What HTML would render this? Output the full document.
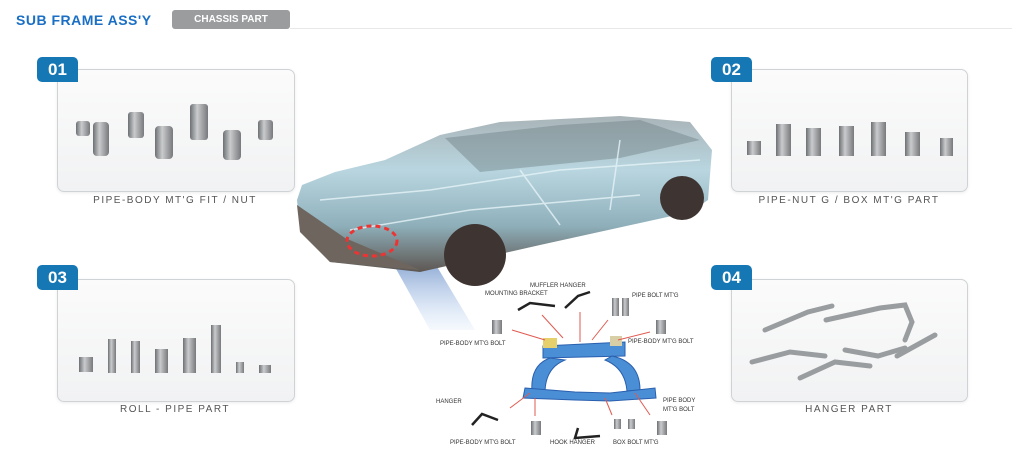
<!DOCTYPE html>
<html><head><meta charset="utf-8"><style>
body{margin:0;width:1012px;height:452px;background:#fff;position:relative;overflow:hidden;font-family:"Liberation Sans",sans-serif}
.box{position:absolute;border:1px solid #cfd3d6;border-radius:7px;background:linear-gradient(#fbfbfb,#f1f2f3);box-shadow:0 1px 3px rgba(0,0,0,.08)}
.badge{position:absolute;width:41px;height:25px;background:#1577b3;color:#fff;font-weight:bold;font-size:17px;line-height:25px;text-align:center;border-radius:5px 5px 0 5px}
.cap{position:absolute;font-size:10px;color:#555;letter-spacing:1.5px;text-align:center;width:236px}
.sl{position:absolute;font-size:6px;color:#333;white-space:nowrap}
</style></head><body>
<div style="position:absolute;left:16px;top:12px;color:#1a6fc4;font-weight:bold;font-size:14px;letter-spacing:.5px">SUB FRAME ASS'Y</div>
<div style="position:absolute;left:172px;top:10px;width:118px;height:19px;background:#9a9c9e;border-radius:3px;color:#fff;font-size:10px;font-weight:bold;line-height:19px;text-align:center">CHASSIS PART</div>
<div style="position:absolute;left:290px;top:28px;width:722px;height:1px;background:#e8e8e8"></div>

<div class="box" style="left:57px;top:69px;width:236px;height:121px"></div>
<div class="badge" style="left:37px;top:57px">01</div>
<div class="cap" style="left:57px;top:195px">PIPE-BODY MT'G FIT / NUT</div>
<div class="box" style="left:731px;top:69px;width:235px;height:121px"></div>
<div class="badge" style="left:711px;top:57px">02</div>
<div class="cap" style="left:731px;top:195px">PIPE-NUT G / BOX MT'G PART</div>
<div class="box" style="left:57px;top:279px;width:236px;height:121px"></div>
<div class="badge" style="left:37px;top:265px">03</div>
<div class="cap" style="left:57px;top:404px">ROLL - PIPE PART</div>
<div class="box" style="left:731px;top:279px;width:235px;height:121px"></div>
<div class="badge" style="left:711px;top:265px">04</div>
<div class="cap" style="left:731px;top:404px">HANGER PART</div>

<svg width="1012" height="452" style="position:absolute;left:0;top:0">
<defs>
<linearGradient id="m" x1="0" x2="1"><stop offset="0" stop-color="#6d7073"/><stop offset=".4" stop-color="#c9cbcd"/><stop offset="1" stop-color="#77797c"/></linearGradient>
<linearGradient id="car" x1="0" y1="0" x2="0" y2="1"><stop offset="0" stop-color="#a9b4b8"/><stop offset=".35" stop-color="#b9d6e0"/><stop offset=".7" stop-color="#8fb0bb"/><stop offset="1" stop-color="#5d5651"/></linearGradient>
<linearGradient id="beam" x1="0" y1="0" x2="0" y2="1"><stop offset="0" stop-color="#2f5ea8" stop-opacity=".8"/><stop offset="1" stop-color="#9fc2ee" stop-opacity=".1"/></linearGradient>
</defs>
<g fill="url(#m)">
<rect x="76" y="121" width="14" height="15" rx="3"/><rect x="93" y="122" width="16" height="34" rx="4"/>
<rect x="128" y="112" width="16" height="26" rx="3"/><rect x="155" y="126" width="18" height="33" rx="4"/>
<rect x="190" y="104" width="18" height="36" rx="3"/><rect x="223" y="130" width="18" height="30" rx="4"/>
<rect x="258" y="120" width="15" height="20" rx="3"/>
</g>
<g fill="url(#m)">
<rect x="747" y="141" width="14" height="14"/><rect x="776" y="124" width="15" height="32"/>
<rect x="806" y="128" width="15" height="28"/><rect x="839" y="126" width="15" height="30"/>
<rect x="871" y="122" width="15" height="34"/><rect x="905" y="132" width="15" height="24"/>
<rect x="940" y="138" width="13" height="18"/>
</g>
<g fill="url(#m)">
<rect x="79" y="357" width="14" height="15"/><rect x="108" y="339" width="8" height="34"/>
<rect x="131" y="341" width="9" height="32"/><rect x="155" y="349" width="13" height="24"/>
<rect x="183" y="338" width="13" height="35"/><rect x="211" y="325" width="10" height="48"/>
<rect x="236" y="362" width="8" height="11"/><rect x="259" y="365" width="12" height="8"/>
</g>
<g stroke="#9a9da0" stroke-width="5" fill="none" stroke-linecap="round">
<path d="M765 330 L808 312 L832 306"/><path d="M826 320 L880 308 L905 305 L912 322 L905 340"/>
<path d="M752 362 L790 352 L825 356"/><path d="M800 378 L835 362 L870 366"/>
<path d="M845 350 L878 356 L905 348"/><path d="M897 356 L935 335"/>
</g>
<polygon points="380,240 430,255 475,330 430,330" fill="url(#beam)"/>
<path d="M297 200 L302 185 L335 172 L385 160 L440 135 L500 122 L620 116 L690 122 L712 150 L708 200 L690 212 L540 245 L420 272 L330 262 L300 230 Z" fill="url(#car)"/>
<path d="M445 138 L560 125 L640 120 L700 140 L620 158 L480 172 Z" fill="#6f8086" opacity=".45"/>
<g stroke="#e6f4f8" stroke-width="1.5" fill="none" opacity=".8">
<path d="M320 200 L430 190 L560 170 L700 160"/><path d="M350 230 L470 210 L640 195"/><path d="M520 170 L560 225"/><path d="M620 140 L610 210"/>
</g>
<path d="M297 205 L345 238 L420 270 L330 262 L300 232 Z" fill="#6e655e"/>
<circle cx="475" cy="255" r="31" fill="#3e3431"/><circle cx="682" cy="198" r="22" fill="#3e3431"/>
<ellipse cx="372" cy="241" rx="25" ry="15" fill="none" stroke="#e33" stroke-width="3" stroke-dasharray="5,4"/>
<g fill="#4a8fd6" stroke="#2a5fae" stroke-width="1">
<path d="M543 346 L625 342 L625 356 L543 358 Z"/>
<path d="M550 358 Q530 365 532 392 L545 393 Q545 368 565 360 Z"/>
<path d="M612 356 Q640 362 640 390 L627 391 Q625 368 605 360 Z"/>
<path d="M525 388 L575 392 L610 393 L655 388 L656 398 L610 401 L575 400 L523 398 Z"/>
</g>
<rect x="543" y="338" width="14" height="10" fill="#e6d06b"/><rect x="610" y="336" width="12" height="10" fill="#d9cfa6"/>
<g stroke="#e05a50" stroke-width="1" fill="none">
<line x1="542" y1="315" x2="563" y2="338"/><line x1="580" y1="312" x2="580" y2="342"/>
<line x1="608" y1="320" x2="592" y2="340"/><line x1="512" y1="330" x2="545" y2="340"/>
<line x1="650" y1="332" x2="618" y2="340"/><line x1="510" y1="408" x2="530" y2="393"/>
<line x1="535" y1="416" x2="535" y2="398"/><line x1="612" y1="415" x2="605" y2="398"/>
<line x1="650" y1="415" x2="635" y2="393"/>
</g>
<g fill="url(#m)">
<rect x="492" y="320" width="10" height="14"/><rect x="612" y="298" width="7" height="18"/><rect x="622" y="298" width="7" height="18"/>
<rect x="656" y="320" width="10" height="14"/><rect x="531" y="421" width="10" height="14"/>
<rect x="614" y="419" width="7" height="10"/><rect x="628" y="419" width="7" height="10"/><rect x="657" y="421" width="10" height="14"/>
</g>
<g stroke="#222" stroke-width="2.5" fill="none">
<path d="M518 310 L530 303 L555 306"/><path d="M565 308 L578 296 L590 292"/>
<path d="M472 425 L482 414 L498 420"/><path d="M578 428 L575 438 L600 436"/>
</g>
</svg>
<div class="sl" style="left:485px;top:291px">MOUNTING BRACKET</div>
<div class="sl" style="left:530px;top:283px">MUFFLER HANGER</div>
<div class="sl" style="left:632px;top:293px">PIPE BOLT MT'G</div>
<div class="sl" style="left:440px;top:341px">PIPE-BODY MT'G BOLT</div>
<div class="sl" style="left:628px;top:339px">PIPE-BODY MT'G BOLT</div>
<div class="sl" style="left:436px;top:399px">HANGER</div>
<div class="sl" style="left:663px;top:398px">PIPE BODY</div>
<div class="sl" style="left:663px;top:407px">MT'G BOLT</div>
<div class="sl" style="left:450px;top:440px">PIPE-BODY MT'G BOLT</div>
<div class="sl" style="left:550px;top:440px">HOOK HANGER</div>
<div class="sl" style="left:613px;top:440px">BOX BOLT MT'G</div>
</body></html>
